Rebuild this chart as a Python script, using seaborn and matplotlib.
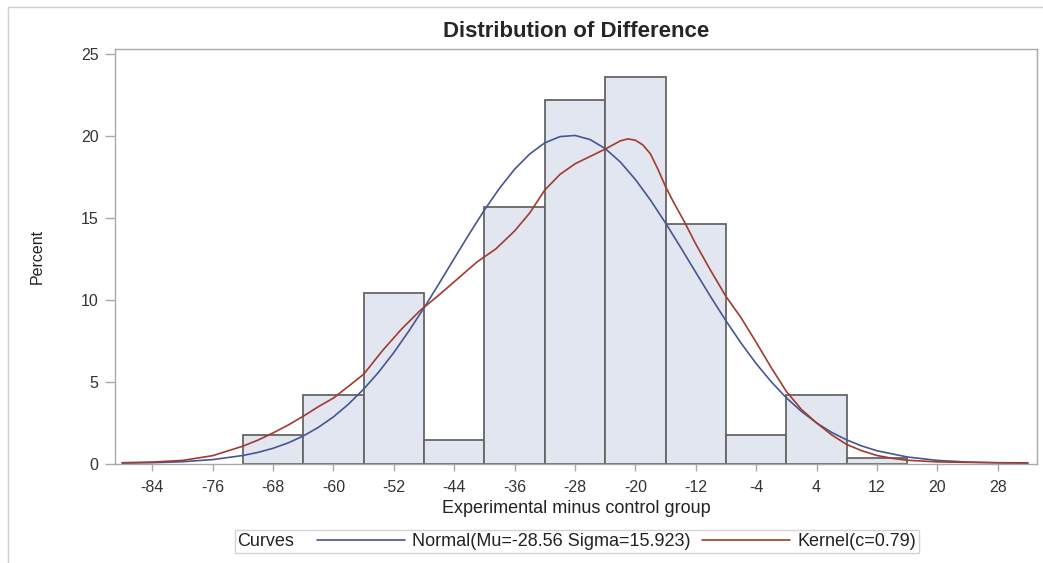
import numpy as np
import pandas as pd
import matplotlib
matplotlib.use("Agg")
import matplotlib.pyplot as plt
import seaborn as sns
from matplotlib.lines import Line2D
from matplotlib.offsetbox import HPacker

# Histogram : centres des classes (largeur 8) et pourcentages
bin_mid = [-68, -60, -52, -44, -36, -28, -20, -12, -4, 4, 12]
bin_pct = [1.77, 4.21, 10.44, 1.42, 15.65, 22.22, 23.60, 14.61, 1.77, 4.21, 0.35]
bin_width = 8

# Courbe normale (Mu=-28.56, Sigma=15.923), valeurs relevées
norm_x = [-88, -84, -80, -76, -72, -70, -68, -66, -64, -62, -60, -58, -56, -54, -52,
          -50, -48, -46, -44, -42, -40, -38, -36, -34, -32, -30, -28, -26, -24, -22,
          -20, -18, -16, -14, -12, -10, -8, -6, -4, -2, 0, 2, 4, 6, 8, 10, 12, 16, 20,
          24, 28, 32]
norm_y = [0.02, 0.05, 0.11, 0.24, 0.49, 0.68, 0.93, 1.26, 1.68, 2.21, 2.85, 3.63, 4.54,
          5.59, 6.78, 8.10, 9.51, 11.00, 12.52, 14.03, 15.48, 16.81, 17.97, 18.90,
          19.58, 19.96, 20.03, 19.78, 19.23, 18.41, 17.34, 16.08, 14.68, 13.19, 11.67,
          10.16, 8.71, 7.35, 6.10, 4.99, 4.01, 3.18, 2.48, 1.90, 1.44, 1.07, 0.78,
          0.40, 0.19, 0.09, 0.04, 0.01]

# Courbe du noyau (c=0.79), valeurs relevées
kern_x = [-88, -84, -80, -76, -72, -70, -68, -66, -64, -62, -60, -58, -56, -53.5, -51,
          -48.5, -46, -43.5, -41, -38.5, -36, -34, -33, -32, -30, -28, -26, -24, -22,
          -21, -20, -19, -18, -17, -16, -15, -13.5, -12, -10, -8, -6, -4, -2, 0, 2, 4,
          6, 8, 10, 12, 14, 16, 20, 24, 28, 32]
kern_y = [0.05, 0.09, 0.19, 0.48, 1.06, 1.43, 1.87, 2.35, 2.89, 3.47, 4.00, 4.72, 5.45,
          6.9, 8.2, 9.35, 10.3, 11.3, 12.3, 13.1, 14.2, 15.3, 16.0, 16.7, 17.65, 18.3,
          18.75, 19.2, 19.7, 19.82, 19.74, 19.45, 18.9, 17.95, 16.9, 16.0, 14.75, 13.4,
          11.76, 10.2, 8.9, 7.4, 5.85, 4.4, 3.3, 2.48, 1.75, 1.16, 0.78, 0.49, 0.32,
          0.2, 0.1, 0.07, 0.05, 0.04]

x_ticks = [-84, -76, -68, -60, -52, -44, -36, -28, -20, -12, -4, 4, 12, 20, 28]
y_ticks = [0, 5, 10, 15, 20, 25]

sns.set_theme(style="white")
plt.rcParams["font.family"] = ["Liberation Sans", "DejaVu Sans"]

fig = plt.figure(figsize=(10.43, 5.63), dpi=100)
ax = fig.add_axes([0.1103, 0.1767, 0.8837, 0.7357])

df_hist = pd.DataFrame({"mid": bin_mid, "pct": bin_pct})
sns.histplot(data=df_hist, x="mid", weights="pct", binwidth=bin_width,
             binrange=(min(bin_mid) - bin_width / 2, max(bin_mid) + bin_width / 2),
             stat="count", color="#E2E6F0", alpha=1, edgecolor="#666666",
             linewidth=1.3, ax=ax)

sns.lineplot(x=norm_x, y=norm_y, color="#445694", linewidth=1.2,
             label="Normal(Mu=-28.56 Sigma=15.923)", ax=ax)
sns.lineplot(x=kern_x, y=kern_y, color="#A23A2E", linewidth=1.2,
             label="Kernel(c=0.79)", ax=ax)

ax.set_xlim(-88.94, 33.17)
ax.set_ylim(0, 25.29)
ax.set_xticks(x_ticks)
ax.set_yticks(y_ticks)
ax.set_xticklabels([str(t) for t in x_ticks])

for sp in ax.spines.values():
    sp.set_color("#A9A9A9")
    sp.set_linewidth(1.0)
ax.tick_params(axis="x", bottom=True, length=5, width=1, color="#A9A9A9",
               pad=7, labelsize=11.5, labelcolor="#333333")
ax.tick_params(axis="y", left=True, length=7, width=1, color="#A9A9A9",
               pad=5, labelsize=11.5, labelcolor="#333333")

ax.set_title("Distribution of Difference", fontsize=16, fontweight="bold", pad=9)
ax.set_xlabel("Experimental minus control group", fontsize=13, color="#222222")
ax.xaxis.set_label_coords(0.5, -0.089)
ax.set_ylabel("Percent", fontsize=11.5, color="#222222")
ax.yaxis.set_label_coords(-0.076, 0.5)

# Légende "Curves" sur une seule ligne
handles, labels = ax.get_legend_handles_labels()
leg = ax.legend(handles, labels, title="Curves", ncol=2, loc="center",
                bbox_to_anchor=(0.501, -0.188), frameon=True, fancybox=False,
                edgecolor="#C8C8C8", fontsize=13, title_fontsize=13,
                handlelength=4.9, handletextpad=0.4, columnspacing=0.6,
                borderpad=0.15, borderaxespad=0)
leg.get_frame().set_linewidth(1.0)
for t in leg.get_texts():
    t.set_color("#222222")
leg.get_title().set_color("#222222")
leg._legend_box.__class__ = HPacker
leg._legend_box.sep = 16

# Cadre extérieur gris clair
fig.add_artist(Line2D([8 / 1043, 8 / 1043], [0, 1 - 7 / 563], transform=fig.transFigure,
                      color="#D0D0D0", linewidth=1))
fig.add_artist(Line2D([8 / 1043, 1], [1 - 7 / 563, 1 - 7 / 563], transform=fig.transFigure,
                      color="#D0D0D0", linewidth=1))

fig.savefig("out.png", dpi=100)
